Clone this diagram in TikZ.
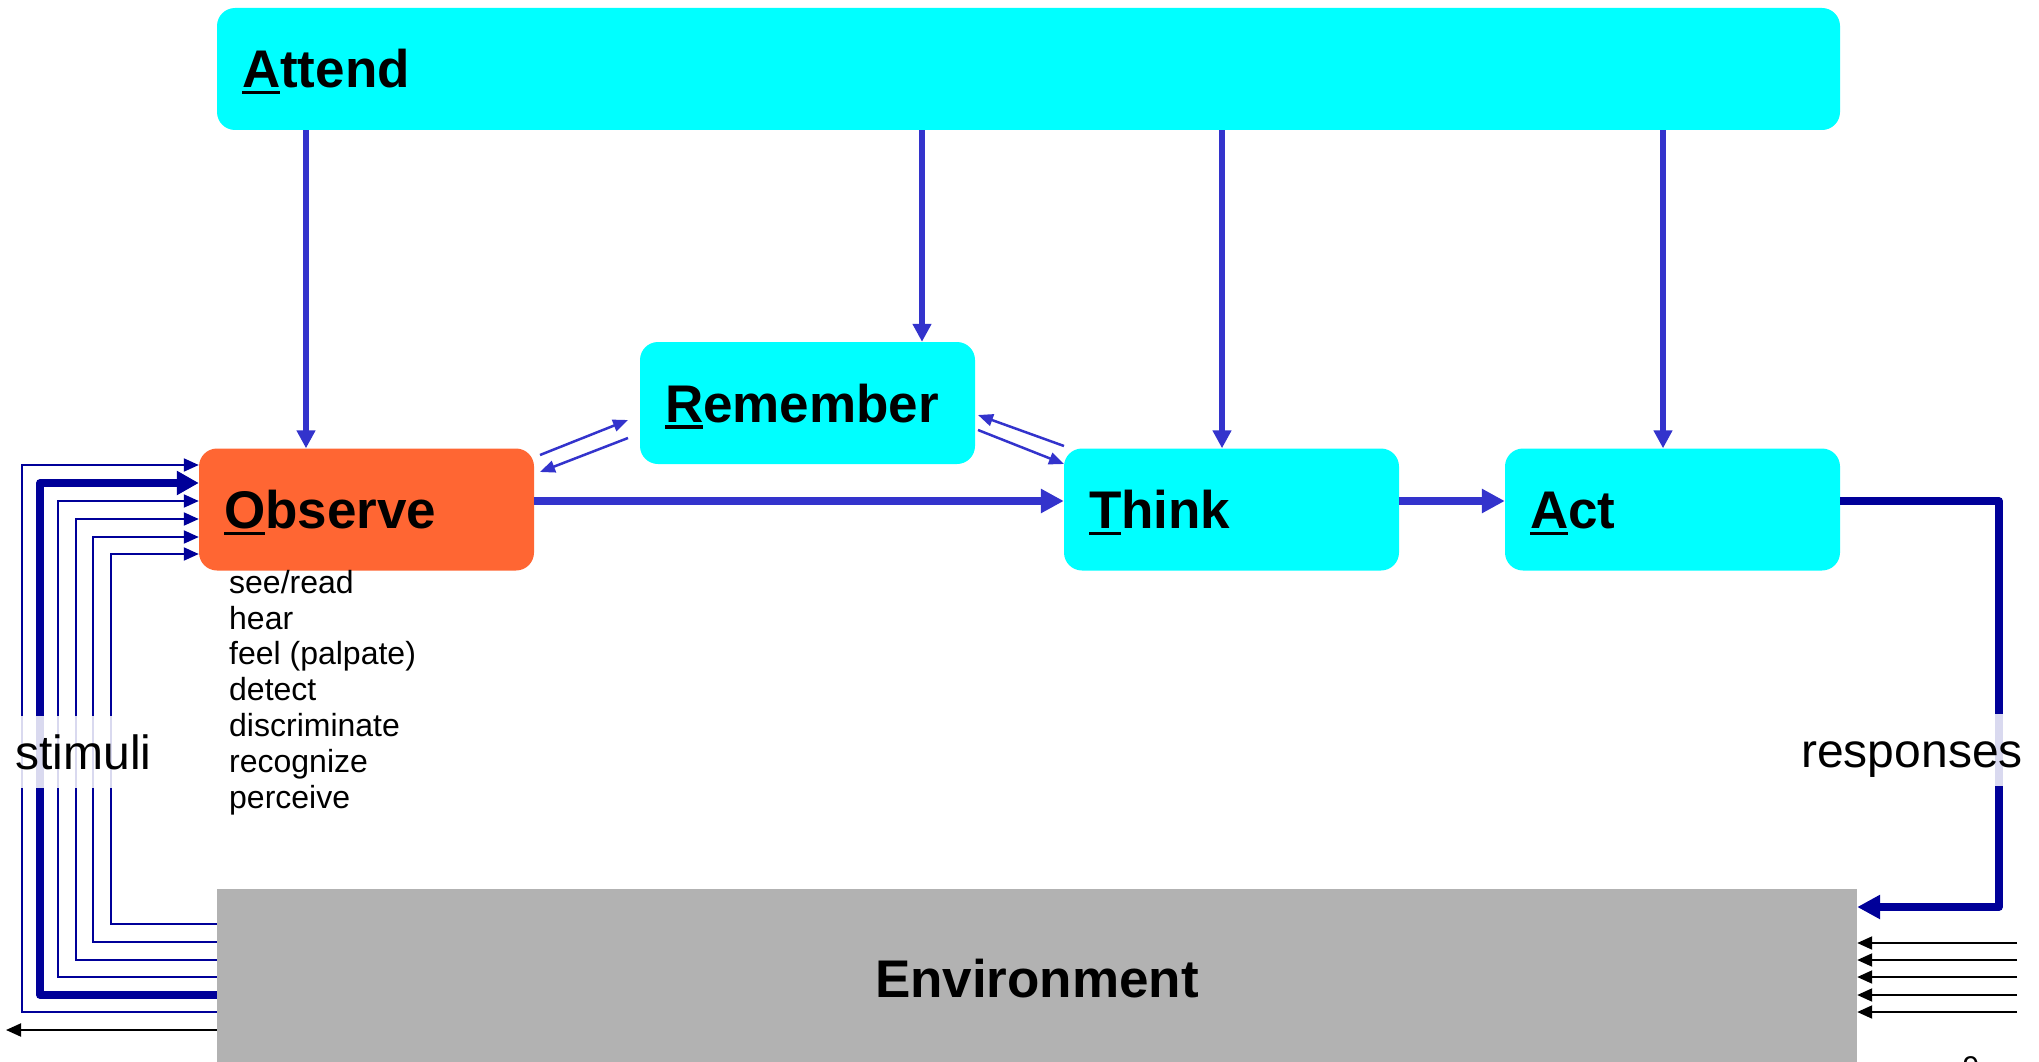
\documentclass[tikz,border=0pt]{standalone}
\usepackage{fontspec}
\setmainfont{Liberation Sans}
\usetikzlibrary{arrows.meta}
\definecolor{boxcyan}{HTML}{00FFFF}
\definecolor{obsorange}{HTML}{FF6633}
\definecolor{envgray}{HTML}{B2B2B2}
\definecolor{flowblue}{HTML}{3333CC}
\definecolor{stimblue}{HTML}{000099}
\newcommand{\firstul}[1]{\setbox0\hbox{#1}\rlap{\rule[-6.5pt]{\wd0}{3.2pt}}\box0}
\tikzset{
  procbox/.style={rectangle, rounded corners=18pt, fill=boxcyan, draw=none,
    minimum width=335pt, minimum height=122pt, inner xsep=25pt, inner ysep=0pt,
    text width=285pt, align=left, font=\fontsize{53}{60}\selectfont\bfseries,
    text height=38pt, text depth=0pt},
  attarrow/.style={draw=flowblue, line width=5.5pt, -{Triangle[length=18pt,width=18pt]}},
  flowarrow/.style={draw=flowblue, line width=8.3pt, -{Triangle[length=23pt,width=23pt]}},
  remarrow/.style={draw=flowblue, line width=2.5pt, -{Triangle[length=15pt,width=12pt]}},
  stimthin/.style={draw=stimblue, line width=2pt, -{Triangle[length=15pt,width=13pt]}},
  stimthick/.style={draw=stimblue, line width=7.7pt, line join=round, -{Triangle[length=22pt,width=23pt]}},
  resparrow/.style={draw=stimblue, line width=7.7pt, line join=round, -{Triangle[length=23pt,width=23pt]}},
  blackarrow/.style={draw=black, line width=2pt, -{Triangle[length=15pt,width=13pt]}},
  sidelabel/.style={font=\fontsize{48}{56}\selectfont, fill=white, fill opacity=0.85, text opacity=1,
    inner xsep=0pt, inner ysep=0pt, minimum height=72pt, text height=35pt, text depth=0pt}
}
\begin{document}
\begin{tikzpicture}[x=1pt,y=-1pt]
\useasboundingbox (0,0) rectangle (2039,1062);

% boxes
\node[procbox, minimum width=1623pt, text width=1573pt] (attend) at (1028.5,69) {\firstul{A}ttend};
\node[procbox] (remember) at (807.5,403) {\firstul{R}emember};
\node[procbox, fill=obsorange] (observe) at (366.5,509.5) {\firstul{O}bserve};
\node[procbox] (think) at (1231.5,509.5) {\firstul{T}hink};
\node[procbox] (act) at (1672.5,509.5) {\firstul{A}ct};
\node[rectangle, fill=envgray, minimum width=1640pt, minimum height=178pt, inner sep=0pt,
      font=\fontsize{53}{60}\selectfont\bfseries, text height=38pt, text depth=0pt] (env) at (1037,978) {Environment};

% observe list
\node[anchor=north west, inner sep=0pt, align=left, font=\fontsize{32}{35.8}\selectfont] (obslist) at (229,570)
  {see/read\\hear\\feel (palpate)\\detect\\discriminate\\recognize\\perceive};

% attend arrows
\coordinate (ax1) at (306,0);
\coordinate (ax2) at (922,0);
\coordinate (ax3) at (1222,0);
\coordinate (ax4) at (1663,0);
\draw[attarrow] (ax1 |- attend.south) -- (ax1 |- observe.north);
\draw[attarrow] (ax2 |- attend.south) -- (ax2 |- remember.north);
\draw[attarrow] (ax3 |- attend.south) -- (ax3 |- think.north);
\draw[attarrow] (ax4 |- attend.south) -- (ax4 |- act.north);

% flow arrows
\coordinate (fy) at (0,501);
\draw[flowarrow] (observe.east |- fy) -- (think.west |- fy);
\draw[flowarrow] (think.east |- fy) -- (act.west |- fy);

% remember arrows
\coordinate (r1s) at (540,455);  \coordinate (r1e) at (628,420);
\coordinate (r2s) at (628,438);  \coordinate (r2e) at (540,472);
\coordinate (r3s) at (1064,446); \coordinate (r3e) at (978,415);
\coordinate (r4s) at (978,430);  \coordinate (r4e) at (1064,464);
\draw[remarrow] (r1s) -- (r1e);
\draw[remarrow] (r2s) -- (r2e);
\draw[remarrow] (r3s) -- (r3e);
\draw[remarrow] (r4s) -- (r4e);

% responses
\coordinate (rx) at (1999,501);
\coordinate (ry) at (0,907);
\draw[resparrow] (act.east |- fy) -- (rx) -- (rx |- ry) -- (env.east |- ry);

% stimuli
\foreach \xv/\yt/\yb in {22/465/1012, 58/501/977, 76/519/960, 93/537/942, 111/554/924}{
  \coordinate (sv) at (\xv,\yt);
  \coordinate (sb) at (0,\yb);
  \draw[stimthin] (env.west |- sb) -| (sv) -- (observe.west |- sv);
}
\coordinate (svk) at (40,483);
\coordinate (sbk) at (0,995);
\draw[stimthick] (env.west |- sbk) -| (svk) -- (observe.west |- svk);

% black arrows
\coordinate (bl) at (6,1030);
\draw[blackarrow] (env.west |- bl) -- (bl);
\foreach \yy in {943,960,977,995,1012}{
  \coordinate (br) at (2017,\yy);
  \draw[blackarrow] (br) -- (br -| env.east);
}

% side labels
\node[sidelabel] (stimuli) at (83.5,752) {stimuli};
\node[sidelabel] (responses) at (1912,750) {responses};

% page number (cut off at the lower edge, as in the reference)
\node[anchor=north, inner sep=0pt, font=\fontsize{30}{36}\selectfont] (pagenum) at (1971,1056) {9};
\end{tikzpicture}
\end{document}
